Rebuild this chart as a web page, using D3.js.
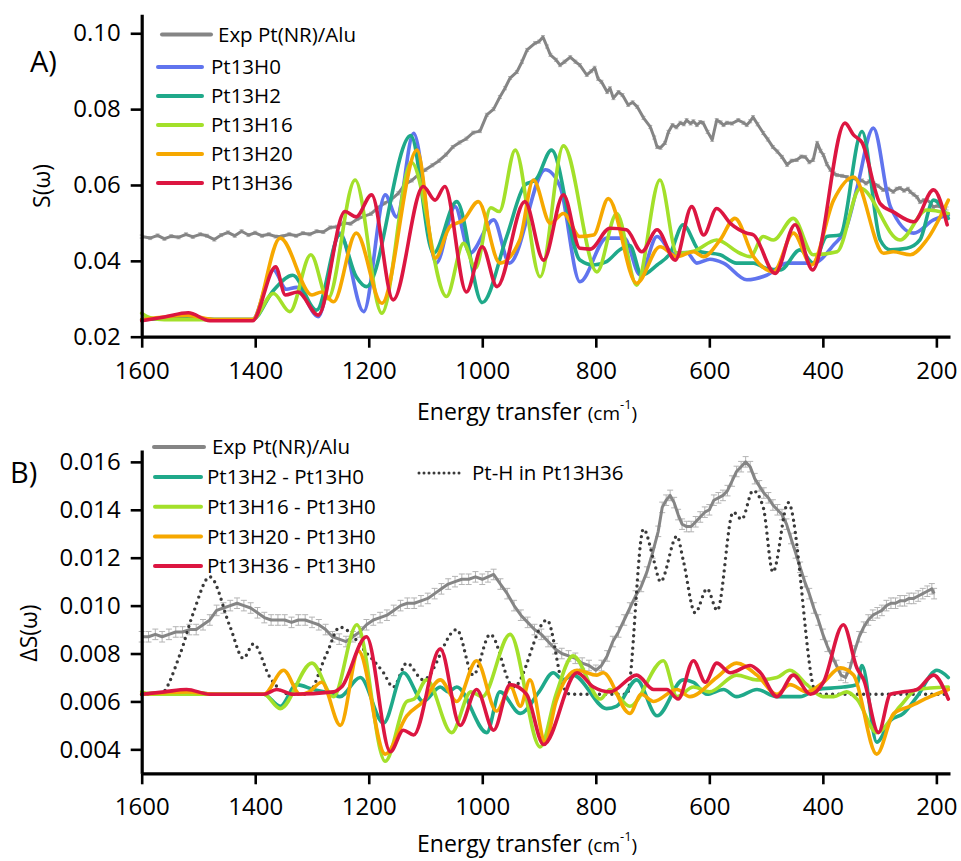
<!DOCTYPE html>
<html>
<head>
<meta charset="utf-8">
<script src="https://cdn.jsdelivr.net/npm/d3@7"></script>
<style>
  body { margin: 0; background: #fff; }
  svg text { font-family: "Open Sans", sans-serif; fill: #000; }
</style>
</head>
<body>
<svg id="chart" width="961" height="861"></svg>
<script>
// ---------- axis ticks ----------
const xTicks = [1600, 1400, 1200, 1000, 800, 600, 400, 200];
const xMinorTicks = [1550, 1500, 1450, 1350, 1300, 1250, 1150, 1100, 1050, 950, 900, 850, 750, 700, 650, 550, 500, 450, 350, 300, 250];
const yTicksA = [0.02, 0.04, 0.06, 0.08, 0.10];
const yMinorA = [0.03, 0.05, 0.07, 0.09];
const yTicksB = [0.004, 0.006, 0.008, 0.010, 0.012, 0.014, 0.016];
const yMinorB = [0.005, 0.007, 0.009, 0.011, 0.013, 0.015];

// ---------- panel A: S(w), [energy cm-1, value] ----------
const expA = [[1600,0.0464],[1585,0.0460],[1572,0.0467],[1560,0.0458],[1548,0.0465],[1535,0.0462],[1522,0.0470],[1510,0.0463],[1497,0.0470],[1485,0.0466],[1472,0.0456],[1460,0.0468],[1448,0.0475],[1436,0.0466],[1424,0.0478],[1412,0.0468],[1400,0.0474],[1388,0.0466],[1376,0.0470],[1364,0.0464],[1352,0.0465],[1340,0.0470],[1328,0.0466],[1316,0.0473],[1304,0.0470],[1292,0.0478],[1280,0.0476],[1268,0.0488],[1256,0.0490],[1244,0.0500],[1232,0.0498],[1220,0.0510],[1208,0.0518],[1196,0.0524],[1184,0.0540],[1172,0.0552],[1160,0.0562],[1148,0.0578],[1136,0.0602],[1124,0.0612],[1112,0.0628],[1100,0.0640],[1088,0.0652],[1076,0.0664],[1064,0.0680],[1052,0.0700],[1040,0.0712],[1028,0.0722],[1016,0.0738],[1004,0.0742],[992,0.0785],[980,0.0800],[969,0.0832],[960,0.0855],[951,0.0882],[939,0.0898],[930,0.0925],[921,0.0956],[907,0.0974],[900,0.0978],[893,0.0990],[886,0.0965],[880,0.0943],[870,0.0930],[863,0.0916],[855,0.0925],[845,0.0937],[836,0.0925],[828,0.0916],[816,0.0890],[808,0.0900],[802,0.0909],[796,0.0880],[790,0.0872],[780,0.0845],[775,0.0855],[769,0.0829],[760,0.0845],[753,0.0837],[743,0.0811],[735,0.0818],[727,0.0806],[716,0.0777],[704,0.0753],[697,0.0725],[692,0.0700],[686,0.0698],[678,0.0711],[672,0.0740],[665,0.0758],[658,0.0752],[651,0.0764],[645,0.0760],[640,0.0771],[633,0.0762],[628,0.0768],[622,0.0758],[616,0.0766],[611,0.0764],[603,0.0740],[595,0.0719],[587,0.0771],[580,0.0765],[575,0.0758],[569,0.0764],[560,0.0762],[549,0.0771],[540,0.0764],[534,0.0758],[528,0.0768],[523,0.0779],[515,0.0760],[505,0.0737],[497,0.0720],[488,0.0700],[480,0.0688],[472,0.0674],[463,0.0653],[455,0.0664],[446,0.0666],[438,0.0675],[431,0.0674],[424,0.0660],[417,0.0666],[410,0.0711],[404,0.0690],[399,0.0679],[393,0.0655],[387,0.0640],[380,0.0630],[375,0.0626],[366,0.0624],[357,0.0621],[352,0.0613],[345,0.0618],[338,0.0610],[331,0.0612],[324,0.0604],[318,0.0610],[311,0.0605],[303,0.0598],[294,0.0587],[285,0.0590],[276,0.0582],[270,0.0590],[264,0.0592],[257,0.0585],[250,0.0590],[246,0.0582],[240,0.0575],[234,0.0568],[229,0.0555],[222,0.0560],[216,0.0560],[210,0.0552],[206,0.0542],[198,0.0545],[190,0.0540],[182,0.0538]];
const expErrA = 0.0004;

const pt13H0 = [[1600,0.0245],[1520,0.0250],[1460,0.0245],[1405,0.0245],[1368,0.0376],[1345,0.0325],[1327,0.0330],[1289,0.0253],[1251,0.0473],[1209,0.0266],[1171,0.0574],[1151,0.0516],[1121,0.0736],[1081,0.0394],[1048,0.0543],[1022,0.0420],[980,0.0508],[952,0.0394],[889,0.0640],[863,0.0596],[828,0.0345],[781,0.0460],[750,0.0460],[722,0.0363],[692,0.0464],[663,0.0420],[640,0.0422],[622,0.0394],[599,0.0404],[575,0.0394],[534,0.0350],[499,0.0362],[463,0.0394],[417,0.0394],[381,0.0442],[358,0.0490],[340,0.0591],[311,0.0750],[281,0.0543],[240,0.0473],[205,0.0508],[179,0.0521]];
const pt13H2 = [[1600,0.0245],[1520,0.0250],[1460,0.0245],[1405,0.0245],[1368,0.0322],[1334,0.0362],[1292,0.0270],[1251,0.0468],[1222,0.0358],[1204,0.0332],[1126,0.0730],[1086,0.0420],[1045,0.0556],[1000,0.0290],[957,0.0464],[925,0.0600],[905,0.0615],[878,0.0692],[828,0.0402],[804,0.0389],[781,0.0398],[757,0.0430],[740,0.0440],[719,0.0362],[692,0.0389],[669,0.0420],[646,0.0495],[616,0.0424],[581,0.0416],[552,0.0394],[522,0.0394],[499,0.0380],[475,0.0376],[440,0.0429],[417,0.0394],[393,0.0464],[370,0.0468],[331,0.0741],[299,0.0455],[281,0.0429],[252,0.0433],[229,0.0455],[205,0.0560],[179,0.0512]];
const pt13H16 = [[1600,0.0262],[1585,0.0250],[1560,0.0245],[1405,0.0245],[1368,0.0314],[1339,0.0266],[1302,0.0416],[1272,0.0300],[1224,0.0613],[1177,0.0262],[1125,0.0660],[1063,0.0306],[1033,0.0446],[1012,0.0380],[985,0.0540],[970,0.0530],[942,0.0692],[898,0.0358],[857,0.0703],[798,0.0371],[763,0.0525],[728,0.0336],[687,0.0613],[657,0.0420],[628,0.0425],[587,0.0455],[546,0.0420],[528,0.0411],[505,0.0464],[487,0.0455],[452,0.0512],[417,0.0416],[375,0.0424],[334,0.0591],[264,0.0455],[217,0.0534],[179,0.0525]];
const pt13H20 = [[1600,0.0245],[1520,0.0256],[1470,0.0245],[1405,0.0245],[1356,0.0460],[1300,0.0310],[1283,0.0318],[1262,0.0292],[1222,0.0473],[1177,0.0288],[1115,0.0692],[1083,0.0407],[1057,0.0490],[1033,0.0508],[1007,0.0556],[969,0.0394],[934,0.0455],[910,0.0613],[880,0.0499],[857,0.0525],[828,0.0464],[804,0.0468],[778,0.0564],[728,0.0341],[687,0.0437],[657,0.0411],[628,0.0424],[610,0.0411],[581,0.0455],[555,0.0512],[522,0.0411],[487,0.0371],[452,0.0473],[420,0.0389],[381,0.0560],[346,0.0621],[293,0.0420],[276,0.0424],[246,0.0416],[217,0.0455],[179,0.0560]];
const pt13H36 = [[1600,0.0242],[1560,0.0252],[1518,0.0263],[1480,0.0242],[1405,0.0242],[1364,0.0384],[1347,0.0310],[1325,0.0318],[1289,0.0257],[1242,0.0530],[1222,0.0516],[1195,0.0574],[1157,0.0297],[1104,0.0596],[1083,0.0560],[1066,0.0596],[1028,0.0318],[1000,0.0437],[974,0.0332],[925,0.0556],[892,0.0402],[857,0.0574],[828,0.0433],[810,0.0431],[775,0.0486],[746,0.0482],[719,0.0424],[692,0.0482],[660,0.0402],[631,0.0543],[610,0.0468],[587,0.0538],[563,0.0499],[534,0.0473],[522,0.0468],[484,0.0367],[449,0.0495],[418,0.0376],[361,0.0763],[346,0.0732],[331,0.0712],[299,0.0551],[276,0.0529],[240,0.0503],[205,0.0587],[181,0.0495]];

// ---------- panel B: difference spectra ----------
const expB = [[1600,0.0087],[1588,0.0087],[1576,0.0088],[1564,0.0087],[1552,0.0088],[1540,0.0089],[1528,0.0089],[1516,0.0090],[1504,0.0090],[1492,0.0092],[1480,0.0094],[1468,0.0098],[1456,0.0099],[1444,0.0100],[1432,0.0101],[1420,0.0100],[1408,0.0099],[1396,0.0097],[1384,0.0095],[1372,0.0094],[1360,0.0094],[1348,0.0094],[1336,0.0093],[1324,0.0094],[1312,0.0094],[1300,0.0093],[1288,0.0092],[1276,0.0090],[1264,0.0087],[1252,0.0086],[1240,0.0085],[1228,0.0087],[1216,0.0089],[1204,0.0092],[1192,0.0094],[1180,0.0095],[1168,0.0096],[1156,0.0098],[1144,0.0100],[1132,0.0101],[1120,0.0101],[1108,0.0102],[1096,0.0103],[1084,0.0105],[1072,0.0107],[1060,0.0109],[1048,0.0110],[1036,0.0111],[1024,0.0111],[1012,0.0112],[1000,0.0111],[990,0.0112],[980,0.0113],[968,0.0109],[956,0.0105],[944,0.0100],[932,0.0096],[920,0.0093],[908,0.0090],[896,0.0088],[884,0.0085],[872,0.0082],[860,0.0080],[848,0.0079],[836,0.0078],[824,0.0076],[812,0.0075],[800,0.0073],[790,0.0075],[780,0.0079],[770,0.0085],[760,0.0089],[750,0.0094],[740,0.0099],[730,0.0104],[720,0.0108],[710,0.0114],[700,0.0122],[690,0.0131],[683,0.0141],[676,0.0144],[669,0.0146],[662,0.0143],[655,0.0138],[648,0.0134],[640,0.0133],[632,0.0133],[624,0.0135],[616,0.0137],[608,0.0139],[600,0.0140],[592,0.0144],[584,0.0145],[576,0.0146],[568,0.0148],[560,0.0152],[552,0.0156],[544,0.0158],[536,0.0160],[528,0.0158],[520,0.0153],[512,0.0150],[504,0.0147],[496,0.0145],[488,0.0142],[480,0.0140],[472,0.0138],[464,0.0134],[456,0.0128],[448,0.0122],[440,0.0116],[432,0.0110],[424,0.0105],[416,0.0099],[408,0.0094],[400,0.0088],[392,0.0083],[384,0.0079],[376,0.0075],[368,0.0071],[360,0.0070],[352,0.0074],[344,0.0081],[336,0.0087],[328,0.0091],[320,0.0094],[312,0.0096],[304,0.0097],[296,0.0098],[288,0.0100],[280,0.0101],[272,0.0101],[264,0.0102],[256,0.0102],[248,0.0103],[240,0.0103],[232,0.0104],[224,0.0105],[216,0.0106],[208,0.0107],[204,0.0105]];
const expErrB = 0.00022;

const ptHinH36 = [[1600,0.0063],[1568,0.0063],[1532,0.0080],[1509,0.0097],[1480,0.0112],[1444,0.0091],[1421,0.0078],[1403,0.0084],[1374,0.0070],[1339,0.0063],[1309,0.0063],[1274,0.0080],[1251,0.0091],[1203,0.0080],[1174,0.0072],[1157,0.0066],[1133,0.0076],[1104,0.0069],[1045,0.0090],[1016,0.0071],[986,0.0088],[945,0.0066],[886,0.0094],[857,0.0066],[845,0.0063],[745,0.0063],[716,0.0132],[698,0.0119],[686,0.0110],[657,0.0129],[646,0.0119],[625,0.0097],[604,0.0107],[586,0.0098],[558,0.0139],[543,0.0136],[523,0.0148],[505,0.0141],[488,0.0114],[461,0.0143],[411,0.0063],[176,0.0063]];

const dH2 = [[1600,0.0063],[1520,0.0064],[1470,0.0063],[1385,0.0063],[1356,0.0058],[1327,0.0067],[1298,0.0065],[1262,0.0063],[1251,0.0062],[1215,0.0070],[1174,0.0051],[1139,0.0072],[1104,0.0060],[1074,0.0066],[1060,0.0064],[1045,0.0066],[992,0.0047],[969,0.0064],[933,0.0055],[900,0.0064],[875,0.0072],[858,0.0069],[840,0.0071],[781,0.0057],[763,0.0058],[728,0.0069],[692,0.0054],[646,0.0069],[628,0.0068],[604,0.0063],[575,0.0065],[552,0.0062],[516,0.0065],[481,0.0062],[440,0.0062],[411,0.0065],[364,0.0066],[340,0.0067],[331,0.0075],[305,0.0043],[281,0.0052],[258,0.0055],[234,0.0062],[199,0.0073],[179,0.0070]];
const dH16 = [[1600,0.0064],[1580,0.0063],[1385,0.0063],[1356,0.0057],[1300,0.0076],[1262,0.0062],[1221,0.0092],[1171,0.0035],[1133,0.0060],[1120,0.0061],[1098,0.0069],[1054,0.0047],[1020,0.0064],[1000,0.0062],[951,0.0088],[898,0.0041],[870,0.0063],[840,0.0079],[792,0.0061],[775,0.0065],[740,0.0058],[681,0.0077],[657,0.0062],[628,0.0066],[600,0.0064],[552,0.0071],[516,0.0069],[481,0.0070],[458,0.0073],[428,0.0067],[400,0.0062],[381,0.0062],[358,0.0064],[340,0.0061],[305,0.0047],[264,0.0058],[234,0.0065],[179,0.0066]];
const dH20 = [[1600,0.0063],[1520,0.0064],[1470,0.0063],[1385,0.0063],[1350,0.0073],[1321,0.0063],[1305,0.0064],[1283,0.0068],[1250,0.0050],[1218,0.0081],[1171,0.0038],[1133,0.0054],[1104,0.0060],[1074,0.0069],[1045,0.0060],[1010,0.0077],[975,0.0056],[950,0.0066],[933,0.0058],[916,0.0069],[889,0.0043],[870,0.0060],[833,0.0073],[798,0.0071],[787,0.0072],[740,0.0055],[720,0.0063],[698,0.0060],[657,0.0065],[634,0.0062],[587,0.0070],[552,0.0076],[516,0.0071],[481,0.0063],[458,0.0067],[428,0.0064],[399,0.0068],[369,0.0074],[346,0.0071],[305,0.0038],[275,0.0055],[246,0.0058],[211,0.0062],[179,0.0065]];
const dH36 = [[1600,0.0063],[1560,0.0064],[1521,0.0065],[1480,0.0063],[1385,0.0063],[1362,0.0065],[1333,0.0063],[1262,0.0064],[1248,0.0066],[1204,0.0087],[1162,0.0039],[1139,0.0048],[1121,0.0046],[1074,0.0082],[1039,0.0050],[1010,0.0065],[980,0.0048],[951,0.0067],[922,0.0063],[892,0.0042],[833,0.0072],[804,0.0066],[775,0.0064],[728,0.0071],[698,0.0065],[675,0.0065],[655,0.0061],[628,0.0077],[607,0.0068],[587,0.0076],[563,0.0072],[528,0.0075],[510,0.0072],[481,0.0062],[452,0.0071],[422,0.0063],[399,0.0068],[364,0.0092],[340,0.0074],[328,0.0069],[302,0.0047],[281,0.0063],[258,0.0064],[234,0.0065],[205,0.0071],[179,0.0061]];

// ---------- colours ----------
const C = {
  exp: "#858585", err: "#b4b4b4", H0: "#6074ee", H2: "#1fa98a",
  H16: "#a3e02a", H20: "#f6a800", H36: "#dc1641", dots: "#3a3a3a"
};

const svg = d3.select("#chart");
const x = d3.scaleLinear().domain([1600, 176]).range([141.7, 950]);
const yA = d3.scaleLinear().domain([0.02, 0.105]).range([336.7, 14.3]);
const yB = d3.scaleLinear().domain([0.003, 0.0165]).range([773.3, 449.9]);

function drawAxes(y, yTicks, yMinor, fmt) {
  const [y0] = y.range();
  const gx = svg.append("g").attr("transform", `translate(0,${y0})`);
  gx.call(d3.axisBottom(x).tickValues(xMinorTicks).tickSize(6).tickSizeOuter(0).tickFormat(""));
  gx.call(d3.axisBottom(x).tickValues(xTicks).tickSize(11).tickSizeOuter(0).tickPadding(14).tickFormat(d3.format("d")));
  const gy = svg.append("g").attr("transform", `translate(${x.range()[0]},0)`);
  gy.call(d3.axisLeft(y).tickValues(yMinor).tickSize(6).tickSizeOuter(0).tickFormat(""));
  gy.call(d3.axisLeft(y).tickValues(yTicks).tickSize(11).tickSizeOuter(0).tickPadding(10).tickFormat(d3.format(fmt)));
  [gx, gy].forEach(g => {
    g.selectAll(".domain").attr("stroke", "#000").attr("stroke-width", 3.2);
    g.selectAll(".tick line").attr("stroke", "#000").attr("stroke-width", 2.6);
    g.selectAll(".tick text").attr("font-size", 24).attr("font-family", "'Open Sans', sans-serif").attr("fill", "#000");
  });
}

function drawExp(data, y, err, errW) {
  const g = svg.append("g");
  g.selectAll("path.err").data(data).join("path")
    .attr("d", d => {
      const px = x(d[0]), t = y(d[1] + err), b = y(d[1] - err);
      return `M${px},${t}V${b}M${px - errW},${t}H${px + errW}M${px - errW},${b}H${px + errW}`;
    })
    .attr("stroke", C.err).attr("stroke-width", 1).attr("fill", "none");
  g.append("path").datum(data)
    .attr("d", d3.line().x(d => x(d[0])).y(d => y(d[1])))
    .attr("fill", "none").attr("stroke", C.exp).attr("stroke-width", 3).attr("stroke-linejoin", "round");
}

function drawCurve(data, y, color, width, dash) {
  const p = svg.append("path").datum(data)
    .attr("d", d3.line().curve(d3.curveMonotoneX).x(d => x(d[0])).y(d => y(d[1])))
    .attr("fill", "none").attr("stroke", color).attr("stroke-width", width)
    .attr("stroke-linejoin", "round").attr("stroke-linecap", "round");
  if (dash) p.attr("stroke-dasharray", dash);
}

function legendItem(x0, x1, tx, yy, color, label, dash, w) {
  const l = svg.append("line").attr("x1", x0).attr("x2", x1).attr("y1", yy).attr("y2", yy)
    .attr("stroke", color).attr("stroke-width", w || 4).attr("stroke-linecap", "round");
  if (dash) l.attr("stroke-dasharray", dash);
  svg.append("text").attr("x", tx).attr("y", yy).attr("dy", "0.35em")
    .attr("font-size", 20.5).text(label);
}

function xTitle(yBase) {
  const t = svg.append("text").attr("x", 417).attr("y", yBase).attr("font-size", 23);
  t.append("tspan").text("Energy transfer ");
  t.append("tspan").attr("font-size", 19).text("(cm");
  t.append("tspan").attr("font-size", 13).attr("dy", -11).text("-1");
  t.append("tspan").attr("font-size", 19).attr("dy", 11).text(")");
}

// ---------- panel A ----------
drawExp(expA, yA, expErrA, 2);
drawCurve(pt13H0, yA, C.H0, 3.6);
drawCurve(pt13H2, yA, C.H2, 3.6);
drawCurve(pt13H16, yA, C.H16, 3.6);
drawCurve(pt13H20, yA, C.H20, 3.6);
drawCurve(pt13H36, yA, C.H36, 3.6);
drawAxes(yA, yTicksA, yMinorA, ".2f");

legendItem(162, 211, 218, 34.5, C.exp, "Exp Pt(NR)/Alu");
const labelsA = ["Pt13H0", "Pt13H2", "Pt13H16", "Pt13H20", "Pt13H36"];
const colorsA = [C.H0, C.H2, C.H16, C.H20, C.H36];
labelsA.forEach((s, i) => legendItem(158, 202, 211, 67 + i * 29, colorsA[i], s));

svg.append("text").attr("x", 30).attr("y", 72).attr("font-size", 29).text("A)");
svg.append("text").attr("transform", "translate(50,186) rotate(-90)")
  .attr("text-anchor", "middle").attr("font-size", 23).text("S(ω)");
xTitle(420);

// ---------- panel B ----------
drawExp(expB, yB, expErrB, 3);
drawCurve(ptHinH36, yB, C.dots, 3.4, "0 6.2");
drawCurve(dH2, yB, C.H2, 3.6);
drawCurve(dH16, yB, C.H16, 3.6);
drawCurve(dH20, yB, C.H20, 3.6);
drawCurve(dH36, yB, C.H36, 3.6);
drawAxes(yB, yTicksB, yMinorB, ".3f");

legendItem(154, 204, 212, 447, C.exp, "Exp Pt(NR)/Alu");
const labelsB = ["Pt13H2 - Pt13H0", "Pt13H16 - Pt13H0", "Pt13H20 - Pt13H0", "Pt13H36 - Pt13H0"];
const colorsB = [C.H2, C.H16, C.H20, C.H36];
labelsB.forEach((s, i) => legendItem(155, 201, 207, 477 + i * 29.7, colorsB[i], s));
legendItem(419, 463, 472, 473, C.dots, "Pt-H in Pt13H36", "0 5", 3);

svg.append("text").attr("x", 10).attr("y", 483).attr("font-size", 29).text("B)");
svg.append("text").attr("transform", "translate(37,633) rotate(-90)")
  .attr("text-anchor", "middle").attr("font-size", 23).text("ΔS(ω)");
xTitle(852);
</script>
</body>
</html>
